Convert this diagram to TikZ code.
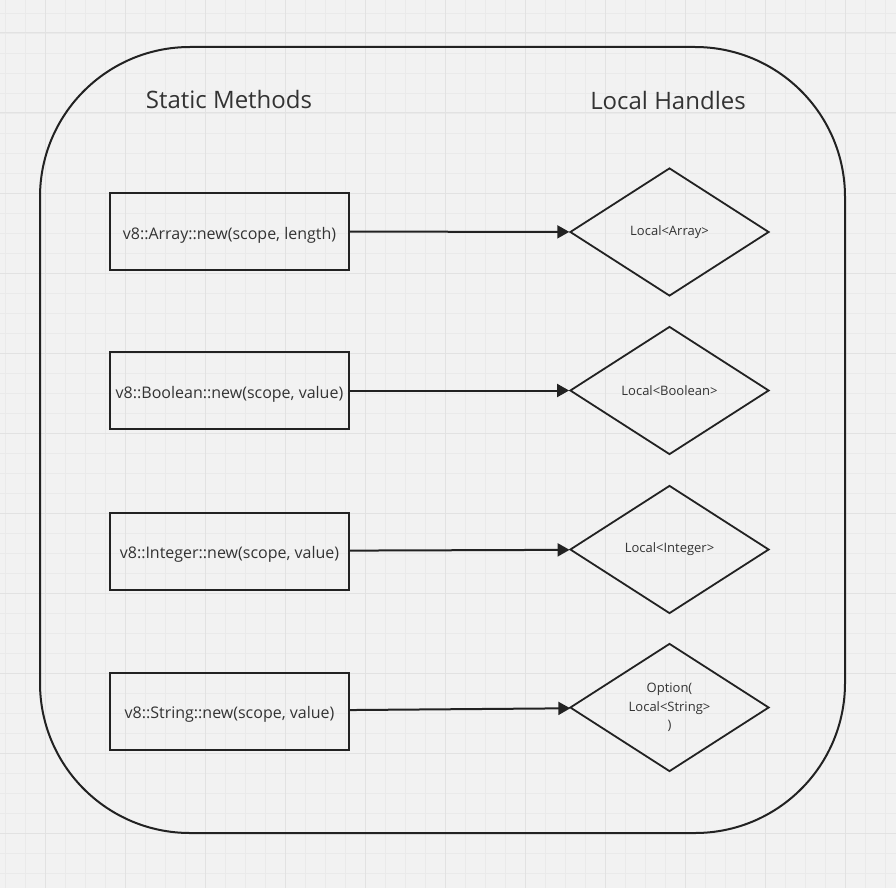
\documentclass[tikz,border=0pt]{standalone}
\usepackage{fontspec}
\setmainfont{Open Sans}
\usepackage{tikz}
\usetikzlibrary{arrows.meta, shapes.geometric, positioning}

\definecolor{board}{HTML}{F2F2F2}
\definecolor{gridminor}{HTML}{EAEAEA}
\definecolor{gridmajor}{HTML}{E2E2E2}
\definecolor{ink}{HTML}{222222}
\definecolor{txt}{HTML}{333333}

\tikzset{
  method/.style={draw=ink, line width=2pt, minimum width=239pt, minimum height=77pt,
    inner sep=0pt, text=txt, text height=15.5pt, text depth=0pt, font=\fontsize{16}{19}\selectfont},
  handle/.style={diamond, draw=ink, line width=1.8pt, minimum width=199pt, minimum height=128pt,
    aspect=1.55, inner sep=0pt, text=txt, align=center, font=\fontsize{13}{18.3}\selectfont},
  heading/.style={text=txt, font=\fontsize{24}{29}\selectfont},
  call/.style={draw=ink, line width=2pt, -{Triangle[length=12pt,width=13pt]}},
}

\begin{document}
\begin{tikzpicture}[x=1pt, y=-1pt]
% whiteboard
\useasboundingbox (0,0) rectangle (896,888);
\fill[board] (0,0) rectangle (896,888);
\foreach \x in {5,25,...,885} \draw[gridminor, line width=0.8pt] (\x,0) -- (\x,888);
\foreach \y in {13,33,...,873} \draw[gridminor, line width=0.8pt] (0,\y) -- (896,\y);
\foreach \x in {45,125,...,845} \draw[gridmajor, line width=1pt] (\x,0) -- (\x,888);
\foreach \y in {33,113,...,833} \draw[gridmajor, line width=1pt] (0,\y) -- (896,\y);

\node[draw=ink, line width=2pt, rounded corners=150pt, minimum width=805pt, minimum height=786pt] (frame) at (442.5,440) {};

\node[heading] (static) at (229,100) {Static Methods};
\node[heading] (local) at (668,101) {Local Handles};

\node[method] (m1) at (229.5,231.5) {v8::Array::new(scope, length)};
\node[method] (m2) at (229.5,390.5) {v8::Boolean::new(scope, value)};
\node[method] (m3) at (229.5,551) {v8::Integer::new(scope, value)};
\node[method] (m4) at (229.5,711) {v8::String::new(scope, value)};

\node[handle] (h1) at (669.5,232) {Local<Array>};
\node[handle] (h2) at (669.5,390.5) {Local<Boolean>};
\node[handle] (h3) at (669.5,549.5) {Local<Integer>};
\node[handle] (h4) at (669.5,707.5) {Option(\\Local<String>\\)};

\draw[call] (m1) -- (h1);
\draw[call] (m2) -- (h2);
\draw[call] (m3) -- (h3);
\draw[call] (m4) -- (h4);
\end{tikzpicture}
\end{document}
